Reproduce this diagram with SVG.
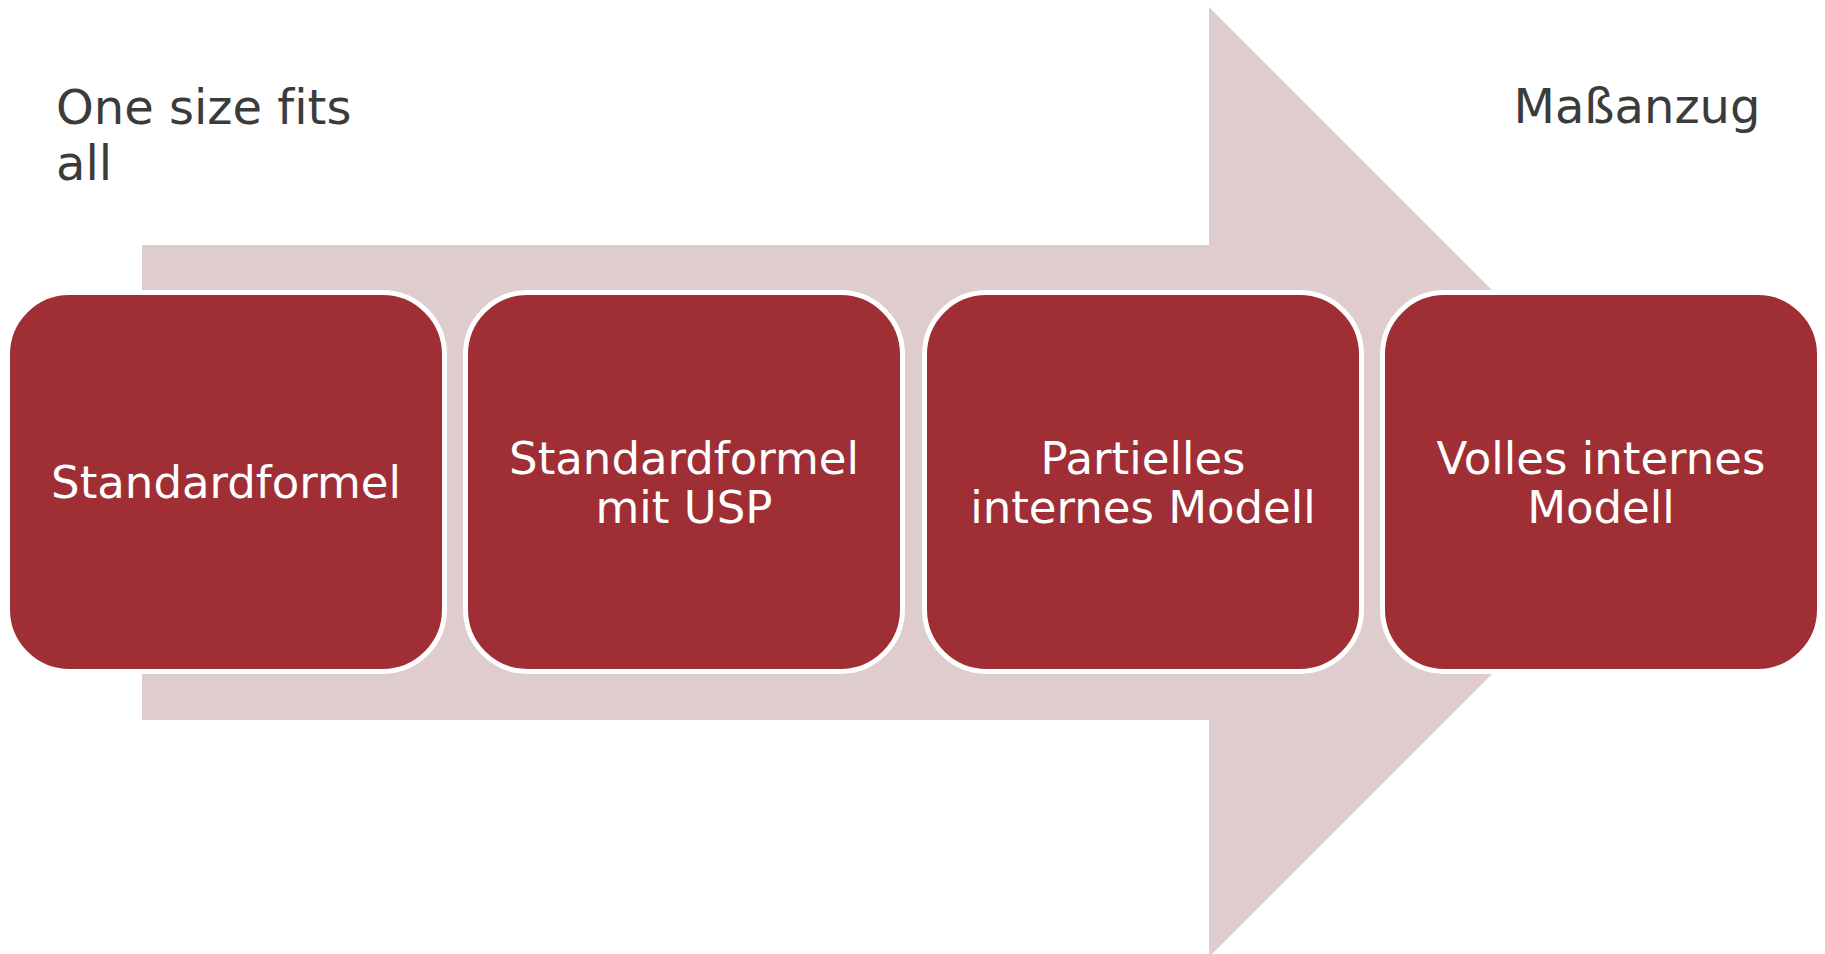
<svg xmlns="http://www.w3.org/2000/svg" width="1825" height="954" viewBox="0 0 1825 954">
  <style>
    text { font-variant-ligatures: none; font-feature-settings: "liga" 0; }
    .box { fill: #A02F35; stroke: #FFFFFF; stroke-width: 5; }
    .btxt { font-family: "DejaVu Sans", Verdana, sans-serif; font-size: 45px; fill: #FFFFFF; text-anchor: middle; }
    .lbl { font-family: "DejaVu Sans", Verdana, sans-serif; font-size: 48px; fill: #3B3B3B; }
  </style>
  <rect x="0" y="0" width="1825" height="954" fill="#FFFFFF"/>
  <g id="connectors">
    <polygon id="arrow" points="142,245 1209,245 1209,7 1684,482 1209,957 1209,720 142,720" fill="#DFCDCD"/>
  </g>
  <g id="label-left">
    <text class="lbl" x="56" y="124">One size fits</text>
    <text class="lbl" x="56" y="180">all</text>
  </g>
  <g id="label-right">
    <text class="lbl" x="1637" y="123" text-anchor="middle">Maßanzug</text>
  </g>
  <g id="node1">
    <rect class="box" x="7.5" y="292.5" width="437" height="379" rx="62" ry="62"/>
    <text class="btxt" x="226" y="498">Standardformel</text>
  </g>
  <g id="node2">
    <rect class="box" x="465.5" y="292.5" width="437" height="379" rx="62" ry="62"/>
    <text class="btxt" x="684" y="474">Standardformel</text>
    <text class="btxt" x="684" y="523">mit USP</text>
  </g>
  <g id="node3">
    <rect class="box" x="924.5" y="292.5" width="437" height="379" rx="62" ry="62"/>
    <text class="btxt" x="1143" y="474">Partielles</text>
    <text class="btxt" x="1143" y="523">internes Modell</text>
  </g>
  <g id="node4">
    <rect class="box" x="1382.5" y="292.5" width="437" height="379" rx="62" ry="62"/>
    <text class="btxt" x="1601" y="474">Volles internes</text>
    <text class="btxt" x="1601" y="523">Modell</text>
  </g>
</svg>
